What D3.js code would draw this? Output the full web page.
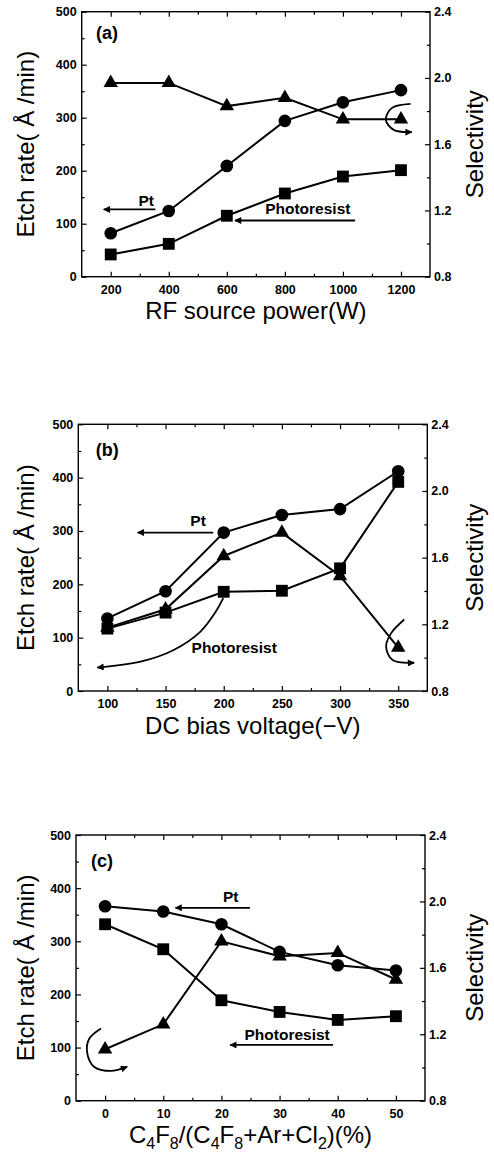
<!DOCTYPE html>
<html><head><meta charset="utf-8">
<script src="https://cdn.jsdelivr.net/npm/d3@7"></script>
<style>
body{margin:0;background:#fff}
svg{display:block;background:#fff}
text{font-family:"Liberation Sans",Arial,Helvetica,sans-serif;fill:#000}
</style>
</head><body>
<svg id="chart" width="494" height="1153"></svg>
<script>
// ---------- data ----------
const rfPower   = [200, 400, 600, 800, 1000, 1200];
const rfPtRate  = [82, 124, 209, 294, 329, 352];
const rfPRRate  = [42, 62, 115, 157, 189, 201];
const rfSelect  = [1.97, 1.97, 1.83, 1.88, 1.75, 1.75];

const dcBias    = [100, 150, 200, 250, 300, 350];
const dcPtRate  = [136, 187, 297, 330, 341, 412];
const dcPRRate  = [117, 147, 186, 188, 230, 392];
const dcSelect  = [1.18, 1.29, 1.61, 1.75, 1.49, 1.06];

const c4f8Ratio = [0, 10, 20, 30, 40, 50];
const cPtRate   = [366, 356, 332, 280, 255, 245];
const cPRRate   = [332, 285, 189, 167, 152, 159];
const cSelect   = [1.11, 1.26, 1.76, 1.67, 1.69, 1.53];

const etchTicks   = [0, 100, 200, 300, 400, 500];
const etchMinor   = [50, 150, 250, 350, 450];
const selTicks    = [0.8, 1.2, 1.6, 2.0, 2.4];
const selMinor    = [1.0, 1.4, 1.8, 2.2];
const rfTicks     = [200, 400, 600, 800, 1000, 1200];
const rfMinor     = [300, 500, 700, 900, 1100];
const dcTicks     = [100, 150, 200, 250, 300, 350];
const dcMinor     = [125, 175, 225, 275, 325];
const cTicks      = [0, 10, 20, 30, 40, 50];
const cMinor      = [5, 15, 25, 35, 45];

// ---------- drawing ----------
const svg = d3.select("#chart");
const defs = svg.append("defs");
defs.append("marker").attr("id","ah").attr("viewBox","0 0 10 10")
  .attr("refX",9).attr("refY",5).attr("markerWidth",9).attr("markerHeight",7)
  .attr("markerUnits","userSpaceOnUse").attr("orient","auto")
  .append("path").attr("d","M0,0 L10,5 L0,10 Z").attr("fill","#000");

function panel(cfg){
  const x  = d3.scaleLinear().domain(cfg.xDomain).range([cfg.L, cfg.R]);
  const y  = d3.scaleLinear().domain([0, 500]).range([cfg.B, cfg.T]);
  const yR = d3.scaleLinear().domain([0.8, 2.4]).range([cfg.B, cfg.T]);
  const g = svg.append("g");

  function styleAxis(sel){
    sel.select(".domain").remove();
    sel.selectAll(".tick line").attr("stroke","#000").attr("stroke-width",1.2);
    sel.selectAll(".tick text").attr("font-size",12.5).attr("font-weight","bold")
      .attr("font-family",'"Liberation Sans",Arial,sans-serif').attr("fill","#000");
  }
  function noText(sel){ styleAxis(sel); sel.selectAll(".tick text").remove(); }
  // bottom
  g.append("g").attr("transform",`translate(0,${cfg.B})`)
    .call(d3.axisBottom(x).tickValues(cfg.xTicks).tickSize(-5).tickPadding(8.5).tickFormat(d3.format("d"))).call(styleAxis);
  g.append("g").attr("transform",`translate(0,${cfg.B})`)
    .call(d3.axisBottom(x).tickValues(cfg.xMinor).tickSize(-3)).call(noText);
  // top
  g.append("g").attr("transform",`translate(0,${cfg.T})`)
    .call(d3.axisTop(x).tickValues(cfg.xTicks).tickSize(-5)).call(noText);
  g.append("g").attr("transform",`translate(0,${cfg.T})`)
    .call(d3.axisTop(x).tickValues(cfg.xMinor).tickSize(-3)).call(noText);
  // left
  g.append("g").attr("transform",`translate(${cfg.L},0)`)
    .call(d3.axisLeft(y).tickValues(etchTicks).tickSize(-5).tickPadding(5).tickFormat(d3.format("d"))).call(styleAxis);
  g.append("g").attr("transform",`translate(${cfg.L},0)`)
    .call(d3.axisLeft(y).tickValues(etchMinor).tickSize(-3)).call(noText);
  // right
  g.append("g").attr("transform",`translate(${cfg.R},0)`)
    .call(d3.axisRight(yR).tickValues(selTicks).tickSize(-5).tickPadding(4).tickFormat(d3.format(".1f"))).call(styleAxis);
  g.append("g").attr("transform",`translate(${cfg.R},0)`)
    .call(d3.axisRight(yR).tickValues(selMinor).tickSize(-3)).call(noText);

  // frame
  g.append("rect").attr("x",cfg.L).attr("y",cfg.T).attr("width",cfg.R-cfg.L).attr("height",cfg.B-cfg.T)
    .attr("fill","none").attr("stroke","#000").attr("stroke-width",1.4);

  // titles
  g.append("text").attr("transform",`translate(34,${(cfg.T+cfg.B)/2}) rotate(-90)`)
    .attr("text-anchor","middle").attr("font-size",24).text("Etch rate( Å /min)");
  g.append("text").attr("transform",`translate(483,${(cfg.T+cfg.B)/2}) rotate(-90)`)
    .attr("text-anchor","middle").attr("font-size",24).text("Selectivity");
  const xt = g.append("text").attr("x",(cfg.L+cfg.R)/2).attr("y",cfg.B+42.5)
    .attr("text-anchor","middle").attr("font-size",24);
  cfg.xTitle.forEach(p=>{
    const t = xt.append("tspan").text(p.t);
    if(p.sub){ t.attr("font-size",16).attr("dy",6); }
    else if(p.after){ t.attr("dy",-6); }
  });

  // series
  const line = (xs, vs, sc) => d3.line().x((d,i)=>x(xs[i])).y((d,i)=>sc(vs[i]))(vs);
  const addSeries = (vs, sc, shape) => {
    g.append("path").attr("d", line(cfg.xs, vs, sc)).attr("fill","none")
      .attr("stroke","#000").attr("stroke-width",2);
    const sym = d3.symbol().type(shape.type).size(shape.size);
    g.selectAll(null).data(vs).enter().append("path")
      .attr("transform",(d,i)=>`translate(${x(cfg.xs[i])},${sc(d)})`)
      .attr("d", sym()).attr("fill","#000");
  };
  addSeries(cfg.sel, yR, {type:d3.symbolTriangle, size:90});
  addSeries(cfg.pt, y, {type:d3.symbolCircle, size:125});
  addSeries(cfg.pr, y, {type:d3.symbolSquare, size:140});

  // annotations
  g.append("text").attr("x",x(cfg.label.x)).attr("y",y(cfg.label.v))
    .attr("font-size",18).attr("font-weight","bold").text(cfg.label.t);
  cfg.texts.forEach(a=>{
    g.append("text").attr("x",x(a.x)).attr("y",y(a.v)).attr("text-anchor","middle")
      .attr("font-size",15.5).attr("font-weight","bold").text(a.t);
  });
  cfg.arrows.forEach(pts=>{
    g.append("path")
      .attr("d", d3.line().x(d=>x(d[0])).y(d=>y(d[1])).curve(d3.curveCatmullRom.alpha(0.5))(pts))
      .attr("fill","none").attr("stroke","#000").attr("stroke-width",1.8).attr("marker-end","url(#ah)");
  });
}

panel({
  L:81.7, R:430, T:11.7, B:276.7, xDomain:[100,1300],
  xTicks:rfTicks, xMinor:rfMinor, xs:rfPower, pt:rfPtRate, pr:rfPRRate, sel:rfSelect,
  xTitle:[{t:"RF source power(W)"}],
  label:{t:"(a)", x:149, v:448},
  texts:[{t:"Pt", x:322, v:134},{t:"Photoresist", x:879, v:118}],
  arrows:[
    [[354,127],[176,127]],
    [[1042,106],[628,106]],
    [[1233,326],[1168,318],[1148,296],[1175,277],[1237,273]]
  ]
});

panel({
  L:78.3, R:427.3, T:424.3, B:691, xDomain:[75,375],
  xTicks:dcTicks, xMinor:dcMinor, xs:dcBias, pt:dcPtRate, pr:dcPRRate, sel:dcSelect,
  xTitle:[{t:"DC bias voltage(\u2212V)"}],
  label:{t:"(b)", x:90, v:440},
  texts:[{t:"Pt", x:178, v:309},{t:"Photoresist", x:209, v:72}],
  arrows:[
    [[191,297],[126,297]],
    [[199.6,174],[192.4,146],[179.8,111],[157,77],[128.5,55],[91.4,44]],
    [[355.2,134],[343.8,108],[339.6,83],[345.2,58],[363.7,53]]
  ]
});

panel({
  L:76, R:425, T:835, B:1100.7, xDomain:[-5,55],
  xTicks:cTicks, xMinor:cMinor, xs:c4f8Ratio, pt:cPtRate, pr:cPRRate, sel:cSelect,
  xTitle:[{t:"C"},{t:"4",sub:true},{t:"F",after:true},{t:"8",sub:true},{t:"/(C",after:true},
          {t:"4",sub:true},{t:"F",after:true},{t:"8",sub:true},{t:"+Ar+Cl",after:true},
          {t:"2",sub:true},{t:")(%)",after:true}],
  label:{t:"(c)", x:-2.4, v:439},
  texts:[{t:"Pt", x:21.6, v:374},{t:"Photoresist", x:31.3, v:115}],
  arrows:[
    [[24.9,363],[12.1,363]],
    [[39.2,105],[21.5,105]],
    [[-0.7,136],[-2.7,117],[-3.1,92],[-1.9,64],[1.0,56],[3.8,64]]
  ]
});
</script>
</body></html>
